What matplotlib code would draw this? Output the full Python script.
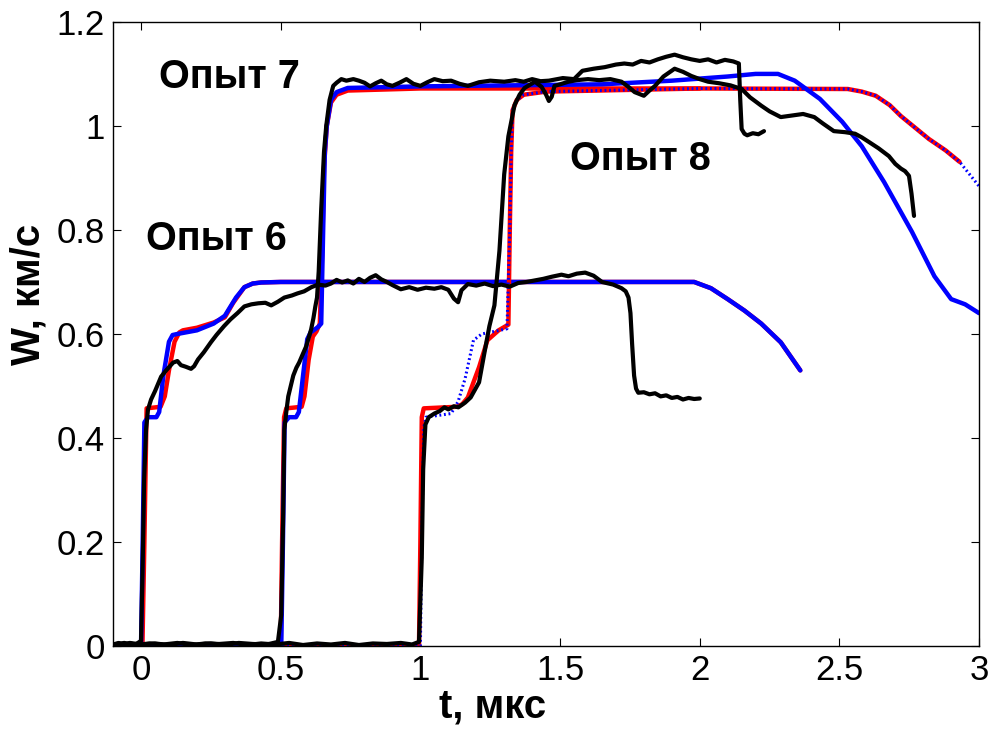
import numpy as np
import matplotlib.pyplot as plt

plt.rcParams['font.family'] = ['Liberation Sans', 'DejaVu Sans']

# Опыт 6: расчёт (красный, синий) и эксперимент (чёрный)
r6_t = [-0.1, 0.005, 0.012, 0.02, 0.07, 0.085, 0.10, 0.12, 0.137, 0.15, 0.2, 0.26, 0.30, 0.33,
        0.37, 0.40, 0.43, 0.5, 1.0, 1.98, 2.04, 2.10, 2.16, 2.22, 2.29, 2.36]
r6_w = [0, 0, 0.2, 0.457, 0.46, 0.48, 0.53, 0.585, 0.603, 0.607, 0.612, 0.622, 0.632, 0.66,
        0.69, 0.697, 0.699, 0.70, 0.70, 0.70, 0.688, 0.667, 0.645, 0.62, 0.584, 0.53]
b6_t = [-0.1, 0.0, 0.006, 0.012, 0.025, 0.055, 0.065, 0.08, 0.10, 0.113, 0.13, 0.2, 0.26, 0.30,
        0.34, 0.37, 0.40, 0.43, 0.5, 1.0, 1.98, 2.04, 2.10, 2.16, 2.22, 2.29, 2.36]
b6_w = [0, 0, 0.2, 0.43, 0.44, 0.44, 0.45, 0.52, 0.585, 0.598, 0.60, 0.607, 0.62, 0.635,
        0.67, 0.69, 0.697, 0.699, 0.70, 0.70, 0.70, 0.688, 0.667, 0.645, 0.62, 0.584, 0.53]
k6_t = [-0.1, -0.08, -0.06, -0.04, -0.02, 0.0, 0.007, 0.011, 0.018, 0.025, 0.036, 0.05, 0.072,
        0.09, 0.115, 0.13, 0.143, 0.16, 0.179, 0.19, 0.204, 0.225, 0.25, 0.27, 0.297, 0.32,
        0.345, 0.37, 0.395, 0.42, 0.445, 0.466, 0.49, 0.513, 0.54, 0.56, 0.584, 0.61, 0.634,
        0.66, 0.68, 0.70, 0.72, 0.74, 0.76, 0.78, 0.80, 0.82, 0.84, 0.86, 0.88, 0.90, 0.93,
        0.96, 0.99, 1.02, 1.05, 1.075, 1.10, 1.12, 1.135, 1.147, 1.17, 1.20, 1.23, 1.26, 1.29,
        1.32, 1.35, 1.38, 1.41, 1.44, 1.47, 1.505, 1.53, 1.56, 1.59, 1.62, 1.65, 1.69, 1.72,
        1.735, 1.745, 1.752, 1.758, 1.765, 1.772, 1.78, 1.80, 1.82, 1.84, 1.86, 1.88, 1.90,
        1.92, 1.94, 1.96, 1.98, 2.0]
k6_w = [0.003, 0.006, 0.002, 0.005, 0.003, 0.01, 0.19, 0.32, 0.416, 0.455, 0.474, 0.49, 0.518,
        0.53, 0.545, 0.548, 0.54, 0.537, 0.533, 0.538, 0.551, 0.565, 0.584, 0.598, 0.615, 0.628,
        0.64, 0.653, 0.657, 0.659, 0.66, 0.655, 0.662, 0.67, 0.674, 0.678, 0.682, 0.69, 0.695,
        0.693, 0.697, 0.704, 0.699, 0.703, 0.697, 0.706, 0.70, 0.708, 0.713, 0.705, 0.70, 0.694,
        0.686, 0.690, 0.685, 0.689, 0.687, 0.690, 0.685, 0.668, 0.661, 0.684, 0.696, 0.693,
        0.697, 0.692, 0.695, 0.691, 0.698, 0.700, 0.703, 0.706, 0.710, 0.714, 0.711, 0.716,
        0.718, 0.712, 0.700, 0.695, 0.688, 0.682, 0.67, 0.64, 0.58, 0.52, 0.495, 0.487, 0.488,
        0.484, 0.486, 0.480, 0.482, 0.477, 0.479, 0.474, 0.477, 0.475, 0.476]

# Опыт 7
r7_t = [-0.1, 0.50, 0.505, 0.512, 0.52, 0.575, 0.585, 0.60, 0.615, 0.628, 0.64, 0.648, 0.655,
        0.665, 0.68, 0.70, 0.74, 1.0, 2.0]
r7_w = [0, 0, 0.2, 0.44, 0.457, 0.46, 0.48, 0.55, 0.595, 0.605, 0.62, 0.75, 0.92, 1.0, 1.045,
        1.06, 1.068, 1.072, 1.072]
b7_t = [-0.1, 0.502, 0.508, 0.514, 0.53, 0.555, 0.565, 0.58, 0.595, 0.607, 0.62, 0.635, 0.645,
        0.652, 0.658, 0.665, 0.68, 0.70, 0.74, 1.0, 1.65, 1.9, 2.1, 2.2, 2.28, 2.34, 2.43, 2.51,
        2.58, 2.66, 2.76, 2.84, 2.90, 2.95, 3.0]
b7_w = [0, 0, 0.2, 0.43, 0.44, 0.44, 0.45, 0.52, 0.59, 0.603, 0.608, 0.614, 0.62, 0.8, 0.95,
        1.0, 1.05, 1.065, 1.073, 1.076, 1.08, 1.087, 1.095, 1.10, 1.10, 1.087, 1.052, 1.008,
        0.961, 0.892, 0.796, 0.711, 0.667, 0.657, 0.64]
k7_t = [-0.1, -0.07, -0.04, 0.0, 0.05, 0.1, 0.15, 0.2, 0.25, 0.3, 0.35, 0.4, 0.45, 0.49, 0.502,
        0.509, 0.513, 0.52, 0.527, 0.536, 0.545, 0.556, 0.566, 0.578, 0.591, 0.60, 0.609, 0.617,
        0.624, 0.63, 0.636, 0.645, 0.655, 0.663, 0.675, 0.688, 0.70, 0.717, 0.735, 0.76, 0.78,
        0.80, 0.82, 0.84, 0.86, 0.88, 0.90, 0.925, 0.95, 0.975, 1.0, 1.025, 1.05, 1.08, 1.11,
        1.14, 1.17, 1.21, 1.25, 1.30, 1.34, 1.37, 1.40, 1.43, 1.46, 1.49, 1.51, 1.55, 1.58, 1.62,
        1.66, 1.70, 1.73, 1.76, 1.79, 1.82, 1.85, 1.88, 1.91, 1.94, 1.97, 2.0, 2.03, 2.06, 2.09,
        2.12, 2.14, 2.145, 2.15, 2.16, 2.17, 2.19, 2.21, 2.23]
k7_w = [0.004, 0.002, 0.006, 0.003, 0.005, 0.002, 0.006, 0.003, 0.005, 0.002, 0.006, 0.004,
        0.003, 0.008, 0.06, 0.256, 0.416, 0.45, 0.48, 0.50, 0.52, 0.535, 0.545, 0.56, 0.576,
        0.592, 0.609, 0.63, 0.653, 0.67, 0.72, 0.84, 0.95, 1.0, 1.05, 1.077, 1.083, 1.09, 1.087,
        1.09, 1.087, 1.083, 1.076, 1.082, 1.087, 1.08, 1.077, 1.083, 1.09, 1.081, 1.077, 1.084,
        1.09, 1.086, 1.087, 1.081, 1.077, 1.084, 1.087, 1.085, 1.088, 1.085, 1.09, 1.086, 1.087,
        1.09, 1.092, 1.09, 1.106, 1.11, 1.113, 1.118, 1.12, 1.118, 1.125, 1.122, 1.128, 1.133,
        1.137, 1.132, 1.128, 1.125, 1.128, 1.122, 1.127, 1.124, 1.12, 1.05, 0.994, 0.985, 0.982,
        0.986, 0.984, 0.99]

# Опыт 8
r8_t = [-0.1, 0.995, 1.0, 1.005, 1.012, 1.13, 1.15, 1.17, 1.21, 1.24, 1.28, 1.315, 1.32, 1.325,
        1.33, 1.345, 1.37, 1.45, 2.0, 2.53, 2.58, 2.63, 2.68, 2.72, 2.77, 2.82, 2.88, 2.93]
r8_w = [0, 0, 0.2, 0.44, 0.457, 0.46, 0.465, 0.478, 0.536, 0.588, 0.607, 0.618, 0.8, 0.95,
        1.03, 1.05, 1.06, 1.066, 1.072, 1.071, 1.066, 1.058, 1.04, 1.019, 0.997, 0.975, 0.953,
        0.931]
b8_t = [-0.1, 1.0, 1.005, 1.012, 1.02, 1.11, 1.135, 1.16, 1.19, 1.22, 1.31, 1.32, 1.325, 1.33,
        1.345, 1.37, 1.45, 2.0, 2.53, 2.58, 2.63, 2.68, 2.72, 2.77, 2.82, 2.88, 2.93, 3.0]
b8_w = [0, 0, 0.2, 0.42, 0.44, 0.447, 0.47, 0.514, 0.588, 0.60, 0.61, 0.8, 0.95, 1.03, 1.05,
        1.06, 1.066, 1.072, 1.071, 1.066, 1.058, 1.04, 1.019, 0.997, 0.975, 0.953, 0.931, 0.884]
k8_t = [-0.1, -0.06, -0.02, 0.03, 0.08, 0.13, 0.18, 0.23, 0.28, 0.33, 0.38, 0.43, 0.48, 0.53,
        0.58, 0.63, 0.68, 0.73, 0.78, 0.83, 0.88, 0.93, 0.97, 0.995, 1.005, 1.01, 1.018, 1.03,
        1.05, 1.07, 1.086, 1.10, 1.12, 1.136, 1.16, 1.18, 1.21, 1.23, 1.247, 1.265, 1.283, 1.30,
        1.315, 1.337, 1.355, 1.373, 1.41, 1.434, 1.45, 1.46, 1.47, 1.48, 1.50, 1.53, 1.56, 1.60,
        1.64, 1.68, 1.72, 1.745, 1.767, 1.80, 1.82, 1.84, 1.87, 1.91, 1.94, 1.97, 2.0, 2.03,
        2.07, 2.11, 2.15, 2.18, 2.22, 2.25, 2.29, 2.33, 2.37, 2.41, 2.44, 2.48, 2.52, 2.556,
        2.58, 2.606, 2.64, 2.677, 2.70, 2.72, 2.735, 2.749, 2.758, 2.767]
k8_w = [0.003, 0.006, 0.002, 0.005, 0.003, 0.006, 0.002, 0.005, 0.004, 0.006, 0.002, 0.005,
        0.003, 0.006, 0.002, 0.005, 0.003, 0.006, 0.002, 0.005, 0.004, 0.006, 0.003, 0.008,
        0.17, 0.34, 0.426, 0.44, 0.447, 0.452, 0.459, 0.455, 0.461, 0.459, 0.468, 0.478, 0.507,
        0.566, 0.615, 0.655, 0.76, 0.907, 0.98, 1.04, 1.06, 1.073, 1.085, 1.075, 1.06, 1.048,
        1.056, 1.077, 1.08, 1.085, 1.088, 1.09, 1.088, 1.09, 1.085, 1.075, 1.065, 1.058, 1.068,
        1.077, 1.095, 1.11, 1.104, 1.096, 1.09, 1.085, 1.082, 1.078, 1.071, 1.055, 1.039, 1.028,
        1.017, 1.02, 1.023, 1.017, 1.005, 0.99, 0.988, 0.985, 0.978, 0.969, 0.957, 0.942, 0.927,
        0.918, 0.913, 0.904, 0.87, 0.827]

fig = plt.figure(figsize=(9.92, 7.3), dpi=100)
ax = fig.add_axes([0.114, 0.115, 0.873, 0.855])

lw = 3.2
rnd = dict(solid_capstyle='round', solid_joinstyle='round')
ax.plot(r6_t, r6_w, color='red', lw=lw, **rnd)
ax.plot(b6_t, b6_w, color='blue', lw=lw, **rnd)
ax.plot(r7_t, r7_w, color='red', lw=lw, **rnd)
ax.plot(r8_t, r8_w, color='red', lw=lw, **rnd)
ax.plot(b7_t, b7_w, color='blue', lw=lw, **rnd)
ax.plot(b8_t, b8_w, color='blue', lw=2.2, ls=(0, (0.6, 0.9)))
ax.plot(k6_t, k6_w, color='black', lw=3, **rnd)
ax.plot(k7_t, k7_w, color='black', lw=3, **rnd)
ax.plot(k8_t, k8_w, color='black', lw=3, **rnd)

ax.text(0.065, 1.094, 'Опыт 7', fontsize=28.5, fontweight='bold', va='center', ha='left')
ax.text(0.018, 0.782, 'Опыт 6', fontsize=28.5, fontweight='bold', va='center', ha='left')
ax.text(1.534, 0.936, 'Опыт 8', fontsize=28.5, fontweight='bold', va='center', ha='left')

ax.set_xlim(-0.1, 3)
ax.set_ylim(0, 1.2)
ax.set_xticks([0, 0.5, 1, 1.5, 2, 2.5, 3])
ax.set_xticklabels(['0', '0.5', '1', '1.5', '2', '2.5', '3'])
ax.set_yticks([0, 0.2, 0.4, 0.6, 0.8, 1, 1.2])
ax.set_yticklabels(['0', '0.2', '0.4', '0.6', '0.8', '1', '1.2'])
ax.tick_params(direction='in', length=6, width=0.8, labelsize=25, top=True, right=True, pad=6)
for s in ax.spines.values():
    s.set_linewidth(1.0)
ax.set_xlabel('t, мкс', fontsize=29, fontweight='bold')
ax.set_ylabel('W, км/с', fontsize=29, fontweight='bold')
ax.xaxis.set_label_coords(0.438, -0.066)
ax.yaxis.set_label_coords(-0.076, 0.564)

fig.savefig('out.png', dpi=100)
